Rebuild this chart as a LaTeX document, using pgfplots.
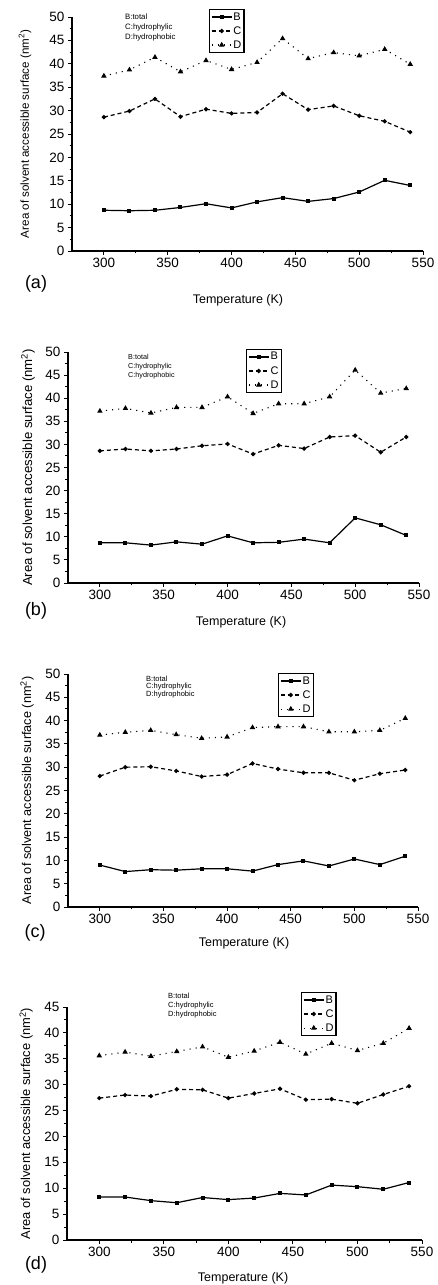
\documentclass[border=0pt]{standalone}
\usepackage{fontspec}
\setmainfont{Liberation Sans}
\usepackage{pgfplots}
\usepackage{pgfplotstable}
\pgfplotsset{compat=1.18}

\pgfplotstableread{
T B C D
300 8.7 28.6 37.4
320 8.6 29.9 38.7
340 8.7 32.5 41.4
360 9.3 28.7 38.3
380 10.1 30.3 40.7
400 9.2 29.4 38.8
420 10.5 29.6 40.3
440 11.4 33.6 45.4
460 10.6 30.2 41.1
480 11.2 31.0 42.4
500 12.6 28.9 41.7
520 15.1 27.7 43.1
540 14.0 25.4 39.9
}\dataA
\pgfplotstableread{
T B C D
300 8.7 28.6 37.2
320 8.7 29.0 37.8
340 8.2 28.6 36.8
360 8.9 29.0 38.0
380 8.4 29.7 38.0
400 10.2 30.1 40.3
420 8.7 27.9 36.7
440 8.8 29.8 38.8
460 9.5 29.1 38.8
480 8.7 31.6 40.3
500 14.1 31.9 46.1
520 12.6 28.3 41.1
540 10.3 31.6 42.1
}\dataB
\pgfplotstableread{
T B C D
300 9.0 28.1 36.9
320 7.6 30.0 37.5
340 8.0 30.1 37.9
360 7.9 29.2 37.0
380 8.2 28.0 36.2
400 8.2 28.4 36.5
420 7.7 30.8 38.5
440 9.1 29.6 38.7
460 9.9 28.8 38.7
480 8.8 28.8 37.6
500 10.3 27.2 37.6
520 9.1 28.6 37.9
540 10.9 29.4 40.5
}\dataC
\pgfplotstableread{
T B C D
300 8.3 27.4 35.6
320 8.3 28.0 36.3
340 7.6 27.8 35.5
360 7.2 29.1 36.4
380 8.2 29.0 37.3
400 7.8 27.4 35.3
420 8.1 28.3 36.5
440 9.0 29.2 38.2
460 8.7 27.1 35.9
480 10.6 27.2 38.0
500 10.3 26.4 36.6
520 9.8 28.1 38.0
540 11.1 29.7 40.9
}\dataD

\pgfplotsset{
  panel/.style={
    scale only axis,
    xmin=275, xmax=550, ymin=0,
    axis lines=left,
    axis line style={-, line width=1.2pt, black},
    xtick={300,350,...,550},
    minor x tick num=1, minor y tick num=1,
    tick align=outside,
    major tick length=4pt, minor tick length=2.5pt,
    every tick/.style={black, line width=0.9pt},
    tick label style={font=\fontsize{13.5}{13.5}\selectfont},
    /pgf/number format/assume math mode=true,
    xlabel={Temperature (K)},
    ylabel={Area of solvent accessible surface (nm\textsuperscript{2})},
    clip=false,
    legend image code/.code={%
      \draw[mark repeat=2,mark phase=2,##1]
        plot coordinates {(0pt,0pt) (10pt,0pt) (20pt,0pt)};},
    legend style={draw=black, line width=1.4pt, fill=white,
      inner sep=1.5pt, row sep=2.5pt,
      font=\fontsize{11}{12}\selectfont,
      nodes={inner sep=1.2pt},
      anchor=north west},
    legend cell align=left,
  },
  serB/.style={black, line width=1.2pt, solid, mark=square*, mark size=1.4pt, mark options={solid}},
  serC/.style={black, line width=1.2pt, dash pattern=on 4pt off 3pt, mark=*, mark size=1.5pt, mark options={solid}},
  serD/.style={black, line width=1.1pt, dash pattern=on 1.1pt off 5pt, mark=triangle*, mark size=2.1pt, mark options={solid}},
}

\begin{document}
\begin{tikzpicture}
\path[use as bounding box] (0pt,0pt) rectangle (438pt,1285pt);

% ---------- (a)
\begin{axis}[panel, at={(72pt,1034pt)}, anchor=south west,
  width=351pt, height=234pt, ymax=50, ytick={0,5,...,50},
  x label style={at={(axis description cs:0.473,-0.209)}, anchor=center, font=\fontsize{12.5}{13}\selectfont},
  y label style={at={(axis description cs:-0.134,0.5)}, anchor=center, font=\fontsize{11.6}{12}\selectfont},
  legend style={at={(axis description cs:0.390,1.034)}}]
\addplot[serB] table[x=T,y=B] {\dataA}; \addlegendentry{B}
\addplot[serC] table[x=T,y=C] {\dataA}; \addlegendentry{C}
\addplot[serD] table[x=T,y=D] {\dataA}; \addlegendentry{D}
\end{axis}
\node[anchor=west, font=\fontsize{7.8}{8}\selectfont, inner sep=0] at (125pt,1268pt) {B:total};
\node[anchor=west, font=\fontsize{7.8}{8}\selectfont, inner sep=0] at (125pt,1258pt) {C:hydrophylic};
\node[anchor=west, font=\fontsize{7.8}{8}\selectfont, inner sep=0] at (125pt,1248pt) {D:hydrophobic};
\node[font=\fontsize{18}{18}\selectfont] at (36pt,1001pt) {(a)};

% ---------- (b)
\begin{axis}[panel, at={(68pt,702pt)}, anchor=south west,
  width=351pt, height=231pt, ymax=50, ytick={0,5,...,50},
  x label style={at={(axis description cs:0.493,-0.169)}, anchor=center, font=\fontsize{12.5}{13}\selectfont},
  y label style={at={(axis description cs:-0.114,0.5)}, anchor=center, font=\fontsize{13.2}{13}\selectfont},
  legend style={at={(axis description cs:0.507,1.013)}}]
\addplot[serB] table[x=T,y=B] {\dataB}; \addlegendentry{B}
\addplot[serC] table[x=T,y=C] {\dataB}; \addlegendentry{C}
\addplot[serD] table[x=T,y=D] {\dataB}; \addlegendentry{D}
\end{axis}
\node[anchor=west, font=\fontsize{7.2}{8}\selectfont, inner sep=0] at (128pt,928pt) {B:total};
\node[anchor=west, font=\fontsize{7.2}{8}\selectfont, inner sep=0] at (128pt,918.5pt) {C:hydrophylic};
\node[anchor=west, font=\fontsize{7.2}{8}\selectfont, inner sep=0] at (128pt,909pt) {C:hydrophobic};
\node[font=\fontsize{18}{18}\selectfont] at (36pt,674pt) {(b)};

% ---------- (c)
\begin{axis}[panel, at={(68pt,378pt)}, anchor=south west,
  width=350pt, height=233pt, ymax=50, ytick={0,5,...,50},
  x label style={at={(axis description cs:0.503,-0.155)}, anchor=center, font=\fontsize{12.5}{13}\selectfont},
  y label style={at={(axis description cs:-0.117,0.5)}, anchor=center, font=\fontsize{12.7}{13}\selectfont},
  legend style={at={(axis description cs:0.600,1.004)}}]
\addplot[serB] table[x=T,y=B] {\dataC}; \addlegendentry{B}
\addplot[serC] table[x=T,y=C] {\dataC}; \addlegendentry{C}
\addplot[serD] table[x=T,y=D] {\dataC}; \addlegendentry{D}
\end{axis}
\node[anchor=west, font=\fontsize{7.5}{8}\selectfont, inner sep=0] at (146pt,606pt) {B:total};
\node[anchor=west, font=\fontsize{7.5}{8}\selectfont, inner sep=0] at (146pt,598pt) {C:hydrophylic};
\node[anchor=west, font=\fontsize{7.5}{8}\selectfont, inner sep=0] at (146pt,590pt) {D:hydrophobic};
\node[font=\fontsize{18}{18}\selectfont] at (35pt,352pt) {(c)};

% ---------- (d)
\begin{axis}[panel, at={(67pt,45pt)}, anchor=south west,
  width=355pt, height=233pt, ymax=45, ytick={0,5,...,45},
  x label style={at={(axis description cs:0.496,-0.163)}, anchor=center, font=\fontsize{12.5}{13}\selectfont},
  y label style={at={(axis description cs:-0.115,0.5)}, anchor=center, font=\fontsize{12.9}{13}\selectfont},
  legend style={at={(axis description cs:0.659,1.064)}}]
\addplot[serB] table[x=T,y=B] {\dataD}; \addlegendentry{B}
\addplot[serC] table[x=T,y=C] {\dataD}; \addlegendentry{C}
\addplot[serD] table[x=T,y=D] {\dataD}; \addlegendentry{D}
\end{axis}
\node[anchor=west, font=\fontsize{7.5}{8}\selectfont, inner sep=0] at (168pt,289pt) {B:total};
\node[anchor=west, font=\fontsize{7.5}{8}\selectfont, inner sep=0] at (168pt,279.5pt) {C:hydrophylic};
\node[anchor=west, font=\fontsize{7.5}{8}\selectfont, inner sep=0] at (168pt,270pt) {D:hydrophobic};
\node[font=\fontsize{18}{18}\selectfont] at (36pt,20pt) {(d)};
\end{tikzpicture}
\end{document}
